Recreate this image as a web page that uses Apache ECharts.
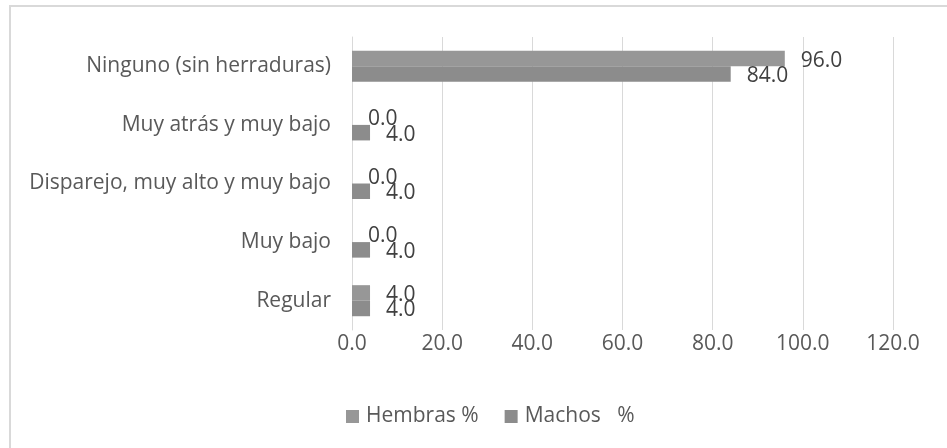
<!DOCTYPE html>
<html>
<head>
<meta charset="utf-8">
<script src="https://cdn.jsdelivr.net/npm/echarts@6/dist/echarts.min.js"></script>
<style>
  html, body { margin: 0; padding: 0; background: #ffffff; }
  #chart { width: 947px; height: 448px; }
</style>
</head>
<body>
<div id="chart"></div>
<script>
// Horseshoe condition categories (bottom to top on the category axis)
const categories = [
  'Regular',
  'Muy bajo',
  'Disparejo, muy alto y muy bajo',
  'Muy atrás y muy bajo',
  'Ninguno (sin herraduras)'
];
const hembras = [4.0, 0.0, 0.0, 0.0, 96.0];
const machos = [4.0, 4.0, 4.0, 4.0, 84.0];
const seriesNames = ['Hembras %', 'Machos   %'];
const xTicks = { min: 0, max: 120, interval: 20 };

const FONT = '"Open Sans", "Noto Sans", sans-serif';

const valueLabel = {
  show: true,
  position: 'right',
  distance: 16,
  offset: [0, 2],
  color: '#404040',
  fontFamily: FONT,
  fontSize: 21,
  formatter: p => p.value.toFixed(1)
};

const chart = echarts.init(document.getElementById('chart'), null, { renderer: 'canvas' });

chart.setOption({
  animation: false,
  backgroundColor: '#ffffff',
  graphic: [{
    type: 'rect',
    shape: { x: 10, y: 6, width: 1200, height: 1200 },
    style: { fill: 'none', stroke: '#d9d9d9', lineWidth: 2 },
    silent: true
  }],
  grid: { left: 352, right: 54, top: 37, bottom: 118 },
  legend: {
    data: seriesNames,
    left: 341,
    top: 401,
    itemWidth: 13,
    itemHeight: 13,
    itemGap: 26,
    icon: 'rect',
    textStyle: { color: '#595959', fontFamily: FONT, fontSize: 21, padding: [0, 0, 0, 2] }
  },
  xAxis: {
    type: 'value',
    min: xTicks.min,
    max: xTicks.max,
    interval: xTicks.interval,
    axisLine: { show: false },
    axisTick: { show: false },
    splitLine: { show: true, lineStyle: { color: '#d9d9d9', width: 1 } },
    axisLabel: {
      color: '#595959',
      fontFamily: FONT,
      fontSize: 21,
      margin: 4,
      formatter: v => v.toFixed(1)
    }
  },
  yAxis: {
    type: 'category',
    data: categories,
    axisLine: { show: true, lineStyle: { color: '#d9d9d9', width: 1 } },
    axisTick: { show: false },
    splitLine: { show: false },
    axisLabel: {
      color: '#595959',
      fontFamily: FONT,
      fontSize: 21,
      margin: 21
    }
  },
  series: [
    {
      name: seriesNames[0],
      type: 'bar',
      data: hembras,
      barGap: '0%',
      barCategoryGap: '47%',
      itemStyle: { color: '#979797' },
      label: valueLabel
    },
    {
      name: seriesNames[1],
      type: 'bar',
      data: machos,
      barGap: '0%',
      barCategoryGap: '47%',
      itemStyle: { color: '#8c8c8c' },
      label: valueLabel
    }
  ]
});
</script>
</body>
</html>
